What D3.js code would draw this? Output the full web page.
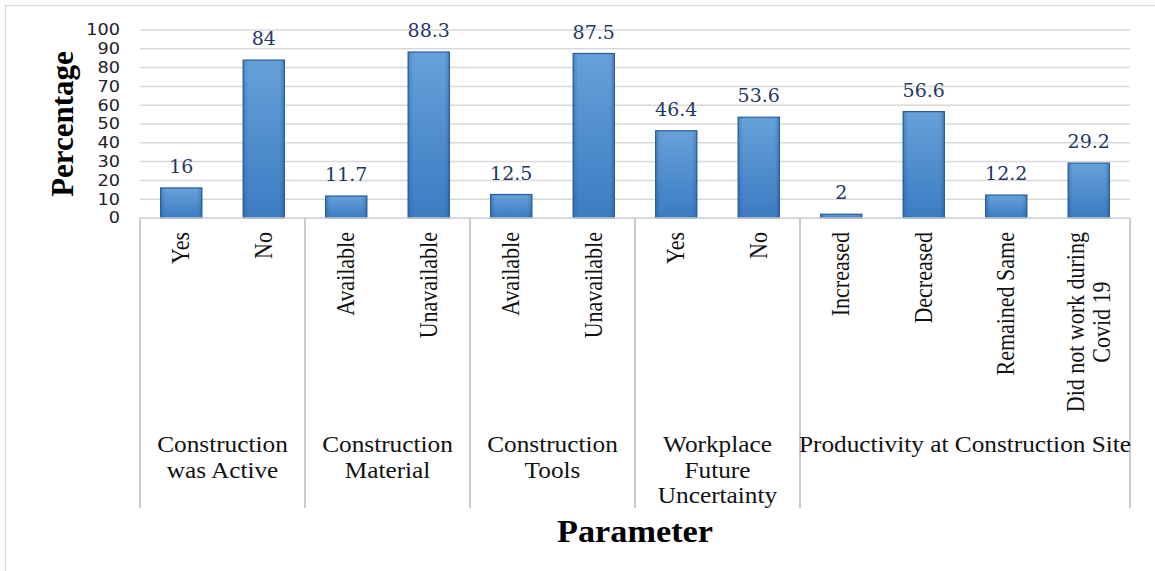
<!DOCTYPE html>
<html>
<head>
<meta charset="utf-8">
<script src="https://cdn.jsdelivr.net/npm/d3@7"></script>
<style>
  html, body { margin: 0; padding: 0; background: #ffffff; }
  svg { display: block; }
</style>
</head>
<body>
<svg id="chart" width="1155" height="571"></svg>
<script>
// ---------------- data ----------------
const categories = ["Yes", "No", "Available", "Unavailable", "Available", "Unavailable",
  "Yes", "No", "Increased", "Decreased", "Remained Same", "Did not work during\nCovid 19"];
const values = [16, 84, 11.7, 88.3, 12.5, 87.5, 46.4, 53.6, 2, 56.6, 12.2, 29.2];
const groupNames = ["Construction\nwas Active", "Construction\nMaterial", "Construction\nTools",
  "Workplace\nFuture\nUncertainty", "Productivity at Construction Site"];
const groupSizes = [2, 2, 2, 2, 4];
const yTicks = [0, 10, 20, 30, 40, 50, 60, 70, 80, 90, 100];
const yTitle = "Percentage";
const xTitle = "Parameter";

// ---------------- layout ----------------
const svg = d3.select("#chart");
const plotLeft = 140, plotRight = 1130, plotTop = 30, plotBottom = 218, sepBottom = 508;
const SX = 1.1; // horizontal text stretch of the reference

const x = d3.scaleBand()
  .domain(d3.range(categories.length))
  .range([plotLeft, plotRight])
  .paddingInner(0.5)
  .paddingOuter(0.25);
const step = x.step();
const y = d3.scaleLinear().domain([0, 100]).range([plotBottom, plotTop]);

// outer frame
svg.append("rect")
  .attr("x", 5.5).attr("y", 5.5)
  .attr("width", 1300).attr("height", 700)
  .attr("fill", "none").attr("stroke", "#d9d9d9").attr("stroke-width", 1.2);

// gradient
const defs = svg.append("defs");
const grad = defs.append("linearGradient").attr("id", "barGrad")
  .attr("x1", 0).attr("y1", 0).attr("x2", 0).attr("y2", 1);
grad.append("stop").attr("offset", "0%").attr("stop-color", "#66a1da");
grad.append("stop").attr("offset", "100%").attr("stop-color", "#3d7bc2");
const gradH = defs.append("linearGradient").attr("id", "barGradH")
  .attr("x1", 0).attr("y1", 0).attr("x2", 1).attr("y2", 0);
gradH.append("stop").attr("offset", "0%").attr("stop-color", "#1f4f8f").attr("stop-opacity", 0.35);
gradH.append("stop").attr("offset", "12%").attr("stop-color", "#1f4f8f").attr("stop-opacity", 0);
gradH.append("stop").attr("offset", "88%").attr("stop-color", "#1f4f8f").attr("stop-opacity", 0);
gradH.append("stop").attr("offset", "100%").attr("stop-color", "#1f4f8f").attr("stop-opacity", 0.35);

// gridlines
svg.append("g").selectAll("line").data(yTicks.filter(d => d > 0)).join("line")
  .attr("x1", plotLeft).attr("x2", plotRight)
  .attr("y1", d => y(d)).attr("y2", d => y(d))
  .attr("stroke", "#d9d9d9").attr("stroke-width", 1.5);

// y tick labels
svg.append("g").selectAll("text").data(yTicks).join("text")
  .attr("transform", d => `translate(120,${y(d)}) scale(1.18,1)`)
  .attr("dy", "0.36em")
  .attr("text-anchor", "end")
  .attr("font-family", "DejaVu Sans, sans-serif")
  .attr("font-size", 15)
  .attr("fill", "#222")
  .text(d => d);

// bars
const bars = svg.append("g");
bars.selectAll("rect.bar").data(values).join("rect")
  .attr("class", "bar")
  .attr("x", (d, i) => x(i))
  .attr("y", d => y(d))
  .attr("width", x.bandwidth())
  .attr("height", d => y(0) - y(d))
  .attr("fill", "url(#barGrad)")
  .attr("stroke", "#2a5c9c").attr("stroke-width", 1.2);
bars.selectAll("rect.shade").data(values).join("rect")
  .attr("class", "shade")
  .attr("x", (d, i) => x(i))
  .attr("y", d => y(d))
  .attr("width", x.bandwidth())
  .attr("height", d => y(0) - y(d))
  .attr("fill", "url(#barGradH)");

// value labels
svg.append("g").selectAll("text").data(values).join("text")
  .attr("x", (d, i) => x(i) + x.bandwidth() / 2)
  .attr("y", d => y(d) - 15)
  .attr("text-anchor", "middle")
  .attr("font-family", "DejaVu Serif, serif")
  .attr("font-size", 19)
  .attr("fill", "#1f3864")
  .text(d => d);

// category axis line
svg.append("line")
  .attr("x1", plotLeft).attr("x2", plotRight)
  .attr("y1", plotBottom).attr("y2", plotBottom)
  .attr("stroke", "#c9ccd3").attr("stroke-width", 1.5);

// group separators
let cum = 0;
const bounds = [0];
groupSizes.forEach(s => { cum += s; bounds.push(cum); });
const boundX = i => (i < categories.length ? x(i) - step * 0.25 : plotRight);
svg.append("g").selectAll("line").data(bounds).join("line")
  .attr("x1", d => boundX(d)).attr("x2", d => boundX(d))
  .attr("y1", plotBottom).attr("y2", sepBottom)
  .attr("stroke", "#c9ccd3").attr("stroke-width", 2);

// category labels (rotated)
const catTop = 232;
const catG = svg.append("g");
categories.forEach((c, i) => {
  const lines = c.split("\n");
  const cx = x(i) + x.bandwidth() / 2;
  const lh = 26;
  lines.forEach((ln, j) => {
    const off = (j - (lines.length - 1) / 2) * lh;
    const t = catG.append("text")
      .attr("font-family", "Liberation Serif, Times New Roman, serif")
      .attr("font-size", 22)
      .attr("fill", "#111")
      .attr("dy", "0.33em")
      .text(ln);
    t.attr("data-line", j);
    t.attr("data-off", off);
    t.attr("data-cx", cx);
  });
  // position: multi-line centered as block, single-line end-anchored at top
  const texts = catG.selectAll(`text`).filter(function () { return +this.getAttribute("data-cx") === cx; });
  const maxLen = d3.max(texts.nodes(), n => n.getComputedTextLength());
  texts.each(function () {
    const off = +this.getAttribute("data-off");
    d3.select(this)
      .attr("text-anchor", "middle")
      .attr("transform", `translate(${cx + off},${catTop + maxLen / 2}) scale(${SX},1) rotate(-90)`);
  });
});

// group labels
const grpG = svg.append("g");
groupNames.forEach((g, k) => {
  const gx = (boundX(bounds[k]) + boundX(bounds[k + 1])) / 2;
  g.split("\n").forEach((ln, j) => {
    grpG.append("text")
      .attr("transform", `translate(${gx},${452 + j * 25.5}) scale(${SX},1)`)
      .attr("text-anchor", "middle")
      .attr("font-family", "Liberation Serif, Times New Roman, serif")
      .attr("font-size", 23)
      .attr("fill", "#111")
      .text(ln);
  });
});

// axis titles
svg.append("text")
  .attr("transform", `translate(73,${(plotTop + plotBottom) / 2}) scale(1.04,1) rotate(-90)`)
  .attr("text-anchor", "middle")
  .attr("font-family", "Liberation Serif, Times New Roman, serif")
  .attr("font-weight", "bold")
  .attr("font-size", 31)
  .attr("fill", "#000")
  .text(yTitle);

svg.append("text")
  .attr("transform", `translate(${(plotLeft + plotRight) / 2},542) scale(1.07,1)`)
  .attr("text-anchor", "middle")
  .attr("font-family", "Liberation Serif, Times New Roman, serif")
  .attr("font-weight", "bold")
  .attr("font-size", 32)
  .attr("fill", "#000")
  .text(xTitle);
</script>
</body>
</html>
